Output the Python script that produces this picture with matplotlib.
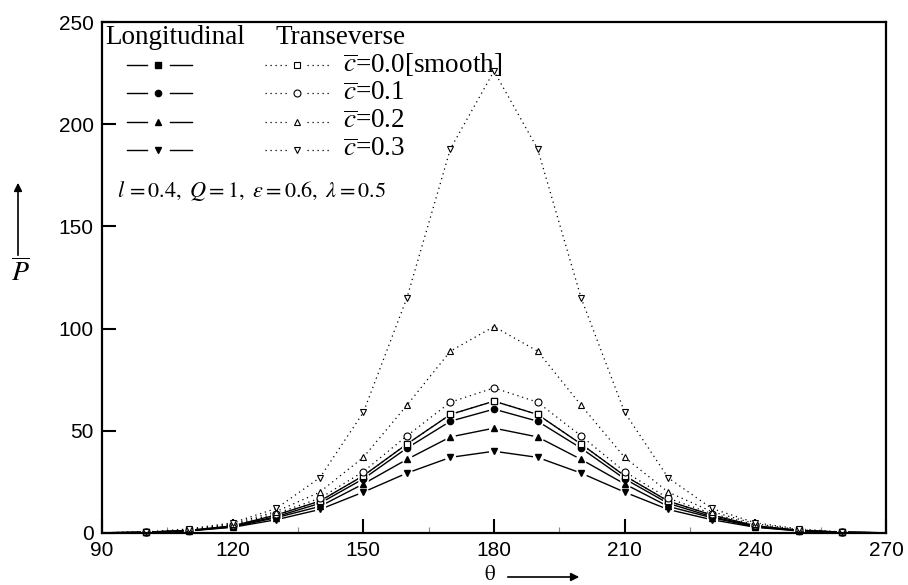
import matplotlib
matplotlib.use('Agg')
import matplotlib.pyplot as plt
from matplotlib.lines import Line2D
from matplotlib.patches import FancyArrowPatch

# ---------------- data ----------------
theta = [90, 100, 110, 120, 130, 140, 150, 160, 170, 180,
         190, 200, 210, 220, 230, 240, 250, 260, 270]

# Longitudinal roughness
long_c00 = [0.1, 0.4, 1.3, 3.5, 8.8, 15.6, 28.0, 43.5, 58.0, 64.5,
            58.0, 43.5, 28.0, 15.6, 8.8, 3.5, 1.3, 0.4, 0.1]
long_c01 = [0.1, 0.4, 1.2, 3.3, 8.0, 14.5, 26.5, 41.5, 54.7, 60.6,
            54.7, 41.5, 26.5, 14.5, 8.0, 3.3, 1.2, 0.4, 0.1]
long_c02 = [0.1, 0.3, 1.1, 3.0, 7.5, 13.0, 24.0, 36.0, 47.0, 51.3,
            47.0, 36.0, 24.0, 13.0, 7.5, 3.0, 1.1, 0.3, 0.1]
long_c03 = [0.1, 0.3, 1.0, 2.8, 6.5, 11.5, 20.0, 29.3, 37.0, 40.0,
            37.0, 29.3, 20.0, 11.5, 6.5, 2.8, 1.0, 0.3, 0.1]

# Transverse roughness
trans_c00 = [0.1, 0.4, 1.3, 3.5, 8.8, 15.6, 28.0, 43.5, 58.0, 64.5,
             58.0, 43.5, 28.0, 15.6, 8.8, 3.5, 1.3, 0.4, 0.1]
trans_c01 = [0.1, 0.4, 1.5, 4.0, 9.5, 17.0, 30.0, 47.5, 64.0, 71.0,
             64.0, 47.5, 30.0, 17.0, 9.5, 4.0, 1.5, 0.4, 0.1]
trans_c02 = [0.1, 0.4, 1.6, 4.5, 10.5, 20.0, 37.0, 62.5, 89.0, 101.0,
             89.0, 62.5, 37.0, 20.0, 10.5, 4.5, 1.6, 0.4, 0.1]
trans_c03 = [0.1, 0.5, 2.0, 5.0, 12.0, 27.0, 59.0, 115.0, 188.0, 226.0,
             188.0, 115.0, 59.0, 27.0, 12.0, 5.0, 2.0, 0.5, 0.1]

legend_labels = [r'$\overline{c}$=0.0[smooth]', r'$\overline{c}$=0.1',
                 r'$\overline{c}$=0.2', r'$\overline{c}$=0.3']
xticks = [90, 120, 150, 180, 210, 240, 270]
yticks = [0, 50, 100, 150, 200, 250]
annotation = r'$l\,=0.4,\ Q=1,\ \varepsilon=0.6,\ \lambda=0.5$'

# ---------------- figure ----------------
plt.rcParams['mathtext.fontset'] = 'stix'
W, H = 908, 585
fig = plt.figure(figsize=(W / 100, H / 100), dpi=100)
AX_L, AX_R, AX_T, AX_B = 102, 886, 22, 533
ax = fig.add_axes([AX_L / W, (H - AX_B) / H, (AX_R - AX_L) / W, (AX_B - AX_T) / H])


def axfrac(px, py):
    return ((px - AX_L) / (AX_R - AX_L), (AX_B - py) / (AX_B - AX_T))


long_series = [long_c00, long_c01, long_c02, long_c03]
trans_series = [trans_c00, trans_c01, trans_c02, trans_c03]
long_markers = ['s', 'o', '^', 'v']
trans_markers = ['s', 'o', '^', 'v']
mk = slice(1, -1)

# longitudinal: solid lines broken around filled markers
for vals in long_series:
    ax.plot(theta, vals, '-', color='black', lw=1.0, zorder=2)
for vals in long_series:
    ax.plot(theta[mk], vals[mk], linestyle='none', marker='o', ms=8,
            mfc='white', mec='none', zorder=3, clip_on=False)
for vals, m in zip(long_series, long_markers):
    ax.plot(theta[mk], vals[mk], linestyle='none', marker=m, ms=4.5,
            color='black', zorder=4, clip_on=False)

# transverse: dotted lines with open markers
for vals, m in zip(trans_series, trans_markers):
    ax.plot(theta, vals, linestyle=(0, (1, 3)), color='black', lw=0.9, zorder=2)
    ax.plot(theta[mk], vals[mk], linestyle='none', marker=m, ms=5,
            mfc='white', mec='black', mew=0.8, zorder=5, clip_on=False)

ax.set_xlim(90, 270)
ax.set_ylim(0, 250)
ax.set_xticks(xticks)
ax.set_xticks([105, 135, 165, 195, 225, 255], minor=True)
ax.set_yticks(yticks)
ax.tick_params(which='major', direction='in', length=10, width=1.5,
               labelsize=15, pad=6, top=False, right=False)
ax.tick_params(which='minor', direction='in', length=4, width=0.8,
               color='#888888', top=False, right=False)
ax.tick_params(axis='y', which='minor', left=False)
for lab in ax.get_xticklabels() + ax.get_yticklabels():
    lab.set_fontfamily('Liberation Sans')
for s in ax.spines.values():
    s.set_linewidth(1.6)
    s.set_zorder(10)

# ---------------- custom legend ----------------
serif = 'Liberation Serif'
fs_leg = 19.5
hx, hy = axfrac(105, 38)
ax.text(hx, hy, 'Longitudinal', transform=ax.transAxes, fontsize=fs_leg,
        fontfamily=serif, ha='left', va='center')
tx, _ = axfrac(275, 38)
ax.text(tx, hy, 'Transeverse', transform=ax.transAxes, fontsize=fs_leg,
        fontfamily=serif, ha='left', va='center')

rows_py = [65, 93, 122, 150]
for py, m, lab in zip(rows_py, long_markers, legend_labels):
    x1, y = axfrac(127, py)
    x2, _ = axfrac(147, py)
    xm, _ = axfrac(158, py)
    x3, _ = axfrac(170, py)
    x4, _ = axfrac(192, py)
    ax.add_line(Line2D([x1, x2], [y, y], transform=ax.transAxes, color='black', lw=1.0))
    ax.add_line(Line2D([x3, x4], [y, y], transform=ax.transAxes, color='black', lw=1.0))
    ax.add_line(Line2D([xm], [y], transform=ax.transAxes, marker=m, ms=4.5,
                       color='black', linestyle='none'))
    t1, _ = axfrac(265, py)
    t2, _ = axfrac(287, py)
    tm, _ = axfrac(297, py)
    t3, _ = axfrac(307, py)
    t4, _ = axfrac(329, py)
    ax.add_line(Line2D([t1, t2], [y, y], transform=ax.transAxes, color='black',
                       lw=0.9, linestyle=(0, (1, 3))))
    ax.add_line(Line2D([t3, t4], [y, y], transform=ax.transAxes, color='black',
                       lw=0.9, linestyle=(0, (1, 3))))
    ax.add_line(Line2D([tm], [y], transform=ax.transAxes, marker=m, ms=5,
                       mfc='white', mec='black', mew=0.8, linestyle='none'))
    lx, _ = axfrac(343, py)
    ax.text(lx, y, lab, transform=ax.transAxes, fontsize=fs_leg,
            fontfamily=serif, ha='left', va='center')

anx, any_ = axfrac(117, 191)
ax.text(anx, any_, annotation, transform=ax.transAxes, fontsize=16,
        ha='left', va='center')

# ---------------- axis labels with arrows ----------------
fig.text(20 / W, 1 - 273 / H, r'$\overline{P}$', fontsize=20, ha='center', va='center')
fig.add_artist(FancyArrowPatch(
    (18 / W, 1 - 258 / H), (18 / W, 1 - 180 / H), transform=fig.transFigure,
    arrowstyle='-|>', mutation_scale=12, lw=1.2, color='black'))
fig.text(490 / W, 1 - 574 / H, r'$\mathrm{\theta}$', fontsize=15, ha='center',
         va='center')
fig.add_artist(FancyArrowPatch(
    (505 / W, 1 - 577 / H), (582 / W, 1 - 577 / H), transform=fig.transFigure,
    arrowstyle='-|>', mutation_scale=12, lw=1.2, color='black'))

fig.savefig('out.png', dpi=100)
